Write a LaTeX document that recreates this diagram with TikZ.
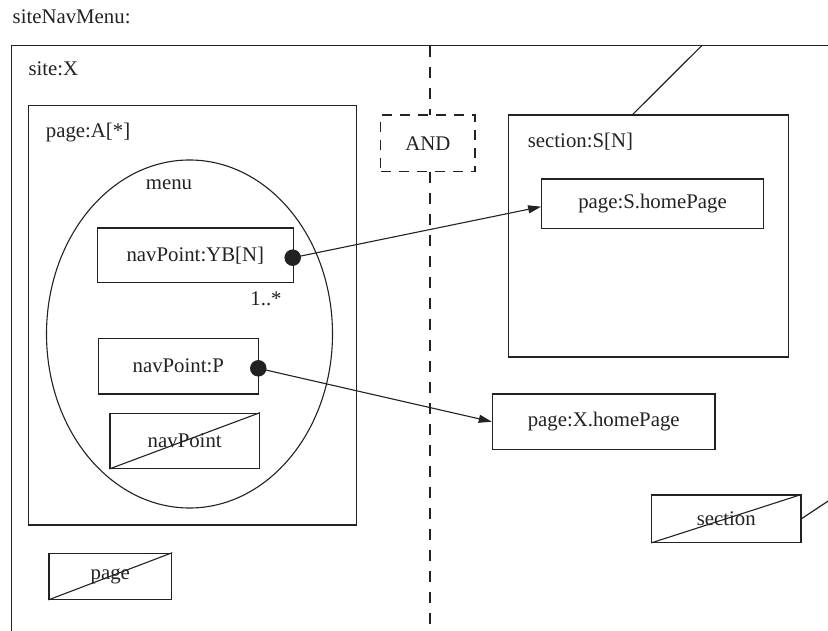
\documentclass[tikz,border=0pt]{standalone}
\usepackage{fontspec}
\setmainfont{Liberation Serif}
\usetikzlibrary{arrows.meta,shapes.geometric}
\definecolor{ink}{HTML}{222222}
\begin{document}
\begin{tikzpicture}[x=1pt,y=-1pt,
  every node/.style={font=\fontsize{20.8}{24}\selectfont, text=ink, inner sep=0pt},
  ln/.style={draw=ink, line width=1.2pt},
  box/.style={rectangle, draw=ink, line width=1.2pt, fill=white},
  dashbox/.style={rectangle, draw=ink, line width=1.2pt, fill=white, dash pattern=on 10pt off 8pt},
  dot/.style={circle, fill=ink, minimum size=16.5pt},
  arr/.style={draw=ink, line width=1.1pt, -{Triangle[length=13pt,width=8pt]}},
  cross/.style={draw=ink, line width=1.1pt}
]
\useasboundingbox (0,0) rectangle (828,631);

% title
\node[anchor=base west] (title) at (12.5,24) {siteNavMenu:};

% site frame
\draw[ln] (835,45.7) -- (11.7,45.7) -- (11.7,640);
\node[anchor=base west] (siteX) at (28.3,75.7) {site:X};

% dashed vertical separator
\draw[ln, dash pattern=on 11pt off 10pt] (430,45.7) -- (430,640);

% AND box
\node[dashbox, minimum width=94.3pt, minimum height=56.7pt] (and) at (427.8,143.3) {AND};

% page:A[*]
\node[box, minimum width=328.4pt, minimum height=419.3pt] (pageA) at (192.5,315.3) {};
\node[anchor=base west] (pageAlbl) at (45.7,138) {page:A[*]};

% menu ellipse
\node[ellipse, draw=ink, line width=1.1pt, minimum width=286pt, minimum height=348pt] (menu) at (189.5,334) {};
\node[anchor=base] (menulbl) at (169,190) {menu};

% navPoints
\node[box, minimum width=196pt, minimum height=54.7pt] (yb) at (195.3,255.4) {navPoint:YB[N]};
\node[dot] (d1) at (292.7,257.7) {};
\node[anchor=base] (mult) at (266,305.7) {1..*};

\node[box, minimum width=160pt, minimum height=55.7pt] (np) at (178.3,366.2) {navPoint:P};
\node[dot] (d2) at (258.3,368.3) {};

\node[box, minimum width=149.3pt, minimum height=55pt] (nx) at (184.7,440.8) {navPoint};
\draw[cross] (nx.south west) -- (nx.north east);

% crossed page
\node[box, minimum width=122.7pt, minimum height=46pt] (pg) at (110.3,576.3) {page};
\draw[cross] (pg.south west) -- (pg.north east);

% section:S[N]
\node[box, minimum width=280pt, minimum height=242pt] (sec) at (648.3,236) {};
\node[anchor=base west] (seclbl) at (527.7,148) {section:S[N]};
\coordinate (secTop) at (701.7,45.7);
\draw[ln] ([xshift=125pt]sec.north west) -- (secTop);

\node[box, minimum width=221.6pt, minimum height=49.3pt] (psh) at (652.5,203.7) {page:S.homePage};

% page:X.homePage
\node[box, minimum width=222.7pt, minimum height=55.3pt] (pxh) at (603.7,421.7) {page:X.homePage};

% crossed section
\node[box, minimum width=149.3pt, minimum height=47.3pt] (sx) at (726.3,518.7) {section};
\draw[cross] (sx.south west) -- (sx.north east);
\coordinate (sxEnd) at (835,496.5);
\draw[ln] (sx.east) -- (sxEnd);

% connectors
\draw[arr] (d1.center) -- ([yshift=-3pt]psh.west);
\draw[arr] (d2.center) -- (pxh.west);
\end{tikzpicture}
\end{document}
